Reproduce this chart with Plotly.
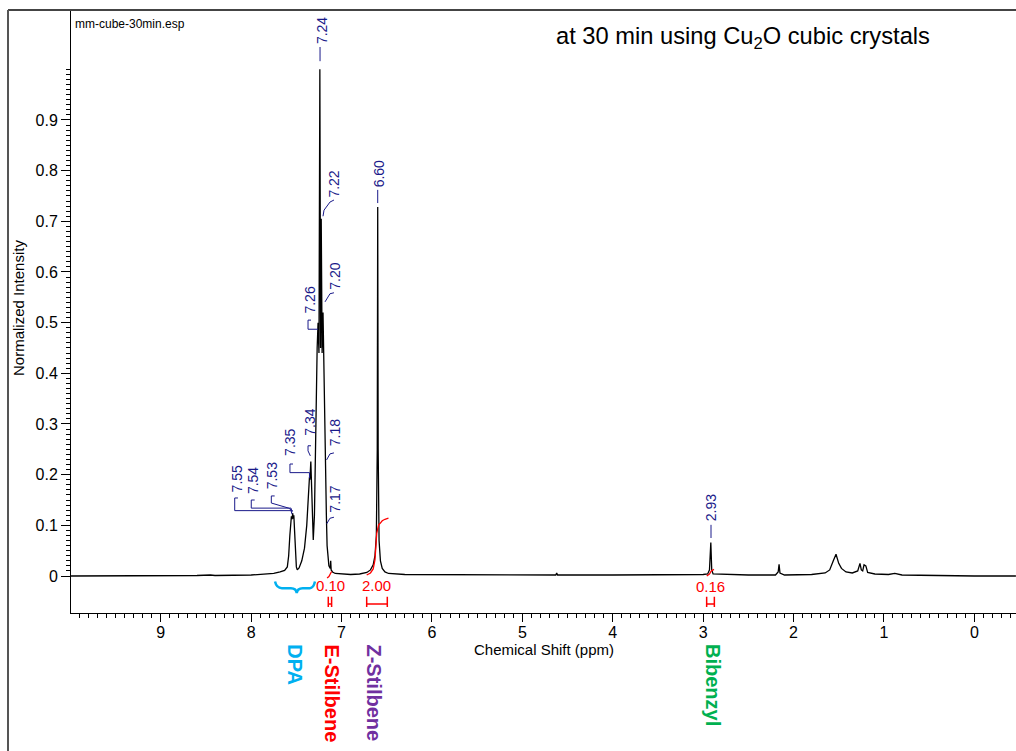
import plotly.graph_objects as go

# ---------------- data ----------------
ppm = [10.0, 9.0, 8.6, 8.45, 8.40, 8.0, 7.85, 7.75, 7.68, 7.63, 7.60, 7.585, 7.572, 7.562,
       7.555, 7.548, 7.54, 7.535, 7.528, 7.52, 7.51, 7.50, 7.49, 7.47, 7.44, 7.41, 7.385,
       7.37, 7.355, 7.35, 7.34, 7.33, 7.32, 7.313, 7.30, 7.285, 7.27, 7.26, 7.25, 7.24,
       7.232, 7.225, 7.215, 7.205, 7.195, 7.185, 7.18, 7.175, 7.168, 7.16, 7.15, 7.14,
       7.125, 7.12, 7.115, 7.10, 7.07, 7.0, 6.9, 6.8, 6.75, 6.72, 6.68, 6.65, 6.63, 6.615,
       6.605, 6.60, 6.595, 6.585, 6.57, 6.55, 6.52, 6.48, 6.3, 5.5, 4.7, 4.63, 4.62, 4.61,
       4.0, 3.5, 3.0, 2.95, 2.93, 2.915, 2.905, 2.89, 2.5, 2.20, 2.17, 2.16, 2.15, 2.10,
       1.8, 1.65, 1.60, 1.56, 1.53, 1.50, 1.47, 1.42, 1.35, 1.29, 1.265, 1.25, 1.235,
       1.22, 1.20, 1.18, 1.1, 0.95, 0.88, 0.8, 0.5, 0.0, -0.46]
intensity = [0.000, 0.000, 0.001, 0.002, 0.001, 0.002, 0.003, 0.005, 0.008, 0.011, 0.018,
             0.040, 0.080, 0.110, 0.118, 0.112, 0.124, 0.113, 0.120, 0.090, 0.045, 0.018,
             0.012, 0.016, 0.030, 0.055, 0.100, 0.160, 0.195, 0.190, 0.226, 0.170, 0.090,
             0.071, 0.120, 0.300, 0.450, 0.500, 0.440, 1.000, 0.450, 0.705, 0.440, 0.520,
             0.380, 0.260, 0.230, 0.160, 0.120, 0.060, 0.030, 0.020, 0.015, 0.030, 0.012,
             0.008, 0.005, 0.004, 0.003, 0.004, 0.005, 0.007, 0.012, 0.022, 0.040, 0.080,
             0.250, 0.728, 0.250, 0.070, 0.030, 0.015, 0.008, 0.005, 0.003, 0.002, 0.002,
             0.002, 0.006, 0.002, 0.002, 0.002, 0.003, 0.004, 0.012, 0.066, 0.012, 0.004,
             0.002, 0.002, 0.008, 0.023, 0.006, 0.002, 0.003, 0.006, 0.012, 0.030, 0.043,
             0.025, 0.015, 0.008, 0.006, 0.010, 0.025, 0.012, 0.010, 0.022, 0.020, 0.007,
             0.004, 0.003, 0.005, 0.002, 0.001, 0.000, 0.000]

# peak picking labels
peak_labels = ["7.55", "7.54", "7.53", "7.35", "7.34", "7.26", "7.24", "7.22", "7.20",
               "7.18", "7.17", "6.60", "2.93"]
# integrals
integral_values = ["0.10", "2.00", "0.16"]
integral_from = [7.147, 6.722, 2.961]
integral_to = [7.110, 6.494, 2.876]
int_e_ppm = [7.16, 7.14, 7.125, 7.11]
int_e_val = [-0.004, -0.001, 0.004, 0.009]
int_z_ppm = [6.722, 6.68, 6.65, 6.63, 6.611, 6.60, 6.59, 6.573, 6.55, 6.52, 6.481]
int_z_val = [0.002, 0.006, 0.014, 0.032, 0.084, 0.096, 0.101, 0.104, 0.109, 0.112, 0.114]
int_b_ppm = [2.96, 2.93, 2.91, 2.88]
int_b_val = [0.000, 0.004, 0.010, 0.013]

compound_names = ["DPA", "E-Stilbene", "Z-Stilbene", "Bibenzyl"]
compound_ppm = [7.512, 7.111, 6.641, 2.891]
compound_colors = ["#00B0F0", "#FF0000", "#7030A0", "#00B050"]

x_major = [0, 1, 2, 3, 4, 5, 6, 7, 8, 9]
y_major = [0, 0.1, 0.2, 0.3, 0.4, 0.5, 0.6, 0.7, 0.8, 0.9]
y_major_text = ["0", "0.1", "0.2", "0.3", "0.4", "0.5", "0.6", "0.7", "0.8", "0.9"]

# ---------------- label placement (layout) ----------------
label_pos = [(8.157, 0.164), (7.972, 0.160), (7.770, 0.170), (7.565, 0.235),
             (7.349, 0.274), (7.349, 0.515), (7.209, 1.048), (7.088, 0.745),
             (7.073, 0.564), (7.073, 0.255), (7.073, 0.124), (6.586, 0.766),
             (2.913, 0.105)]
leaders = [
    [(8.146, 0.154), (8.182, 0.154), (8.182, 0.129), (7.559, 0.129), (7.548, 0.122)],
    [(7.961, 0.150), (7.999, 0.150), (7.999, 0.134), (7.559, 0.134), (7.548, 0.126)],
    [(7.740, 0.158), (7.777, 0.158), (7.777, 0.144), (7.585, 0.134), (7.537, 0.128)],
    [(7.537, 0.221), (7.571, 0.221), (7.571, 0.204), (7.355, 0.204), (7.355, 0.193)],
    [(7.338, 0.257), (7.371, 0.257), (7.371, 0.247), (7.345, 0.237)],
    [(7.338, 0.505), (7.371, 0.505), (7.371, 0.487), (7.261, 0.487)],
    [(7.238, 1.044), (7.238, 1.016)],
    [(7.084, 0.742), (7.128, 0.738), (7.194, 0.722), (7.205, 0.710)],
    [(7.084, 0.559), (7.128, 0.557), (7.183, 0.541)],
    [(7.084, 0.243), (7.128, 0.241), (7.166, 0.229)],
    [(7.084, 0.116), (7.128, 0.114), (7.164, 0.103)],
    [(6.600, 0.762), (6.600, 0.736)],
    [(2.913, 0.101), (2.913, 0.075)],
]
integral_label_pos = [(7.117, -0.018), (6.612, -0.018), (2.924, -0.020)]

FONT = "Liberation Sans, Arial, sans-serif"
NAVY = "#1a1a8a"
RED = "#FF0000"

X_RANGE = [9.993, -0.461]
Y_RANGE = [-0.073, 1.117]
L, R, T, B = 71, 0, 10, 138
W, H = 1016, 751


def paper_x(px):
    return (px - L) / (W - L - R)


def paper_y(py):
    return (H - B - py) / (H - B - T)


fig = go.Figure()
fig.add_trace(go.Scatter(x=ppm, y=intensity, mode="lines",
                         line=dict(color="black", width=1.3), hoverinfo="skip",
                         showlegend=False))
for xs, ys in [(int_e_ppm, int_e_val), (int_z_ppm, int_z_val), (int_b_ppm, int_b_val)]:
    fig.add_trace(go.Scatter(x=xs, y=ys, mode="lines", line=dict(color=RED, width=1.3),
                             hoverinfo="skip", showlegend=False, cliponaxis=False))

shapes = []
annotations = []

# peak labels & leaders
for lab, (lx, ly), pts in zip(peak_labels, label_pos, leaders):
    annotations.append(dict(x=lx, y=ly, xref="x", yref="y", text=lab, textangle=-90,
                            showarrow=False, xanchor="center", yanchor="bottom",
                            borderpad=0, font=dict(family=FONT, size=14, color=NAVY)))
    path = "M " + " L ".join(f"{p[0]},{p[1]}" for p in pts)
    shapes.append(dict(type="path", path=path, xref="x", yref="y",
                       line=dict(color=NAVY, width=1)))

# integral labels & brackets
for val, (lx, ly), a, b in zip(integral_values, integral_label_pos, integral_from, integral_to):
    annotations.append(dict(x=lx, y=ly, xref="x", yref="y", text=val, showarrow=False,
                            xanchor="center", yanchor="middle", borderpad=0,
                            font=dict(family=FONT, size=15, color=RED)))
    path = f"M {a},-0.041 L {a},-0.061 M {a},-0.055 L {b},-0.055 M {b},-0.041 L {b},-0.061"
    shapes.append(dict(type="path", path=path, xref="x", yref="y",
                       line=dict(color=RED, width=1.5)))

# DPA curly brace
shapes.append(dict(type="path", xref="x", yref="y",
                   path=("M 7.736,-0.011 Q 7.72,-0.024 7.66,-0.024 L 7.56,-0.024 "
                         "Q 7.50,-0.024 7.496,-0.034 Q 7.49,-0.024 7.43,-0.024 "
                         "L 7.35,-0.024 Q 7.31,-0.024 7.294,-0.011"),
                   line=dict(color="#00B0F0", width=2.5)))

# compound names (rotated)
for name, cx, col in zip(compound_names, compound_ppm, compound_colors):
    annotations.append(dict(x=cx, y=paper_y(643), xref="x", yref="paper", text=f"<b>{name}</b>",
                            textangle=90, showarrow=False, xanchor="center", yanchor="top",
                            borderpad=0, font=dict(family=FONT, size=20, color=col)))

# texts
annotations.append(dict(x=paper_x(73), y=paper_y(24), xref="paper", yref="paper",
                        text="mm-cube-30min.esp", showarrow=False, xanchor="left",
                        yanchor="middle", font=dict(family=FONT, size=12, color="black")))
annotations.append(dict(x=paper_x(743), y=paper_y(38), xref="paper", yref="paper",
                        text="at 30 min using Cu<sub>2</sub>O cubic crystals", showarrow=False,
                        xanchor="center", yanchor="middle",
                        font=dict(family=FONT, size=23.7, color="black")))
annotations.append(dict(x=paper_x(543.5), y=paper_y(649), xref="paper", yref="paper",
                        text="Chemical Shift (ppm)", showarrow=False, xanchor="center",
                        yanchor="middle", font=dict(family=FONT, size=15, color="black")))
annotations.append(dict(x=paper_x(18), y=paper_y(308), xref="paper", yref="paper",
                        text="Normalized Intensity", showarrow=False, textangle=-90,
                        xanchor="center", yanchor="middle",
                        font=dict(family=FONT, size=15, color="black")))

# outer frame
shapes.append(dict(type="line", xref="paper", yref="paper", x0=paper_x(8), x1=1.0,
                   y0=1.0, y1=1.0, line=dict(color="#444444", width=2)))
shapes.append(dict(type="line", xref="paper", yref="paper", x0=paper_x(8), x1=paper_x(8),
                   y0=1.0, y1=paper_y(752), line=dict(color="#555555", width=2)))

x_minor = [round(9.9 - 0.1 * i, 1) for i in range(104)]
x_mid = [9.5 - i for i in range(10)]
y_minor = [round(0.01 * i, 2) for i in range(0, 101)]
y_mid = [round(0.05 + 0.1 * i, 2) for i in range(10)]

fig.update_layout(
    width=W, height=H, margin=dict(l=L, r=R, t=T, b=B, pad=0),
    paper_bgcolor="white", plot_bgcolor="white", showlegend=False,
    font=dict(family=FONT, color="black"),
    shapes=shapes, annotations=annotations,
    xaxis=dict(range=X_RANGE, showline=True, linecolor="black", linewidth=1,
               ticks="outside", ticklen=8, tickwidth=1, tickcolor="black",
               tickmode="array", tickvals=x_major, ticktext=[str(v) for v in x_major],
               tickfont=dict(family=FONT, size=16, color="black"),
               ticklabelstandoff=-3,
               showgrid=False, zeroline=False,
               minor=dict(tickmode="array", tickvals=x_minor, ticklen=4, tickcolor="black",
                          ticks="outside", showgrid=False)),
    xaxis2=dict(range=X_RANGE, overlaying="x", anchor="y", side="bottom",
                showline=False, ticks="outside", ticklen=6, tickcolor="black",
                tickmode="array", tickvals=x_mid, showticklabels=False,
                showgrid=False, zeroline=False),
    yaxis=dict(range=Y_RANGE, showline=True, linecolor="black", linewidth=1,
               ticks="outside", ticklen=9, tickwidth=1, tickcolor="black",
               tickmode="array", tickvals=y_major, ticktext=y_major_text,
               tickfont=dict(family=FONT, size=16, color="black"),
               showgrid=False, zeroline=False,
               minor=dict(tickmode="array", tickvals=y_minor, ticklen=4, tickcolor="black",
                          ticks="outside", showgrid=False)),
    yaxis2=dict(range=Y_RANGE, overlaying="y", anchor="x", side="left",
                showline=False, ticks="outside", ticklen=6, tickcolor="black",
                tickmode="array", tickvals=y_mid, showticklabels=False,
                showgrid=False, zeroline=False),
)

fig.write_html("out.html")
